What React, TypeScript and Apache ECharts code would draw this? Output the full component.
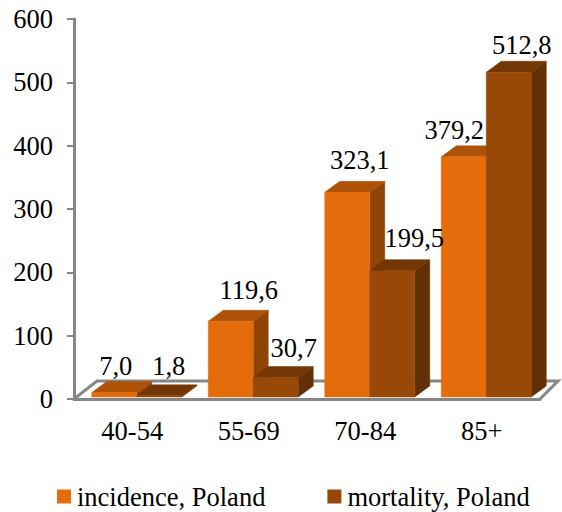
import React, { useEffect, useRef } from "react";
import * as echarts from "echarts";

const categories = ["40-54", "55-69", "70-84", "85+"];
const incidence = [7.0, 119.6, 323.1, 379.2];
const mortality = [1.8, 30.7, 199.5, 512.8];
const incidenceLabels = ["7,0", "119,6", "323,1", "379,2"];
const mortalityLabels = ["1,8", "30,7", "199,5", "512,8"];
const yTicks = { min: 0, max: 600, interval: 100 };

// Hand-placed label nudges relative to the top centre of each bar's front face.
const incidenceLabelNudge = [[1.5, -27], [18, -31], [12.5, -32], [-9.5, -27]];
const mortalityLabelNudge = [[9.5, -30], [18, -30], [22, -33], [13, -27]];

const FONT = '"Liberation Serif", "Times New Roman", serif';
const FONT_SIZE = 26.5;
const AXIS_GREY = "#868686";

const BAR_W = 45;
const DEPTH_X = 15;
const DEPTH_Y = 11;
const FLOOR_LIFT = 2;
const GROUP_SHIFT = 4.5;

const barSeries = (
  name: string,
  values: number[],
  labels: string[],
  nudges: number[][],
  slot: number,
  front: string,
  top: string,
  side: string,
) => ({
  type: "custom",
  name,
  data: values.map((v, i) => [i, v]),
  itemStyle: { color: front },
  clip: false,
  z: 3,
  renderItem: (_p: any, api: any) => {
    const cat = api.value(0);
    const val = api.value(1);
    const [cx, y1] = api.coord([cat, val]);
    const [, base] = api.coord([cat, 0]);
    const x0 = cx + GROUP_SHIFT + (slot - 1) * BAR_W;
    const x1 = x0 + BAR_W;
    const yTop = y1 - FLOOR_LIFT;
    const yBase = base - FLOOR_LIFT;
    const poly = (points: number[][], fill: string, z2 = 0) => ({
      type: "polygon",
      z2,
      shape: { points },
      style: { fill, stroke: fill, lineWidth: 0.5 },
    });
    return {
      type: "group",
      children: [
        poly([[x1, yBase], [x1 + DEPTH_X, yBase - DEPTH_Y], [x1 + DEPTH_X, yTop - DEPTH_Y], [x1, yTop]], side),
        poly([[x0, yTop], [x0 + DEPTH_X, yTop - DEPTH_Y], [x1 + DEPTH_X, yTop - DEPTH_Y], [x1, yTop]], top),
        poly([[x0, yBase], [x1, yBase], [x1, yTop], [x0, yTop]], front),
        {
          type: "text",
          z2: 5,
          style: {
            text: labels[cat],
            x: (x0 + x1) / 2 + nudges[cat][0],
            y: yTop + nudges[cat][1],
            align: "center",
            verticalAlign: "middle",
            fontFamily: FONT,
            fontSize: FONT_SIZE,
            fill: "#000",
          },
        },
      ],
    };
  },
});

// Receding floor edges of the pseudo-3D plot box.
const floorSeries = {
  type: "custom",
  data: [[0, 0]],
  silent: true,
  clip: false,
  z: 1,
  renderItem: (_p: any, api: any) => {
    const [cx, y0] = api.coord([0, 0]);
    const band = api.size([1, 0])[0];
    const left = cx - band / 2;
    const right = left + band * categories.length;
    return {
      type: "polyline",
      shape: {
        points: [
          [left, y0],
          [left + 23, y0 - 18],
          [right + 18, y0 - 18],
          [right, y0],
        ],
      },
      style: { stroke: AXIS_GREY, lineWidth: 3, fill: "none" },
    };
  },
};

export default function App() {
  const ref = useRef<HTMLDivElement>(null);
  useEffect(() => {
    const chart = echarts.init(ref.current!, undefined, { renderer: "svg" });
    chart.setOption({
      animation: false,
      backgroundColor: "#fff",
      textStyle: { fontFamily: FONT },
      grid: { left: 74, right: 22, top: 19, bottom: 113 },
      legend: {
        left: 52,
        top: 478,
        itemWidth: 14,
        itemHeight: 14,
        itemGap: 62,
        icon: "rect",
        textStyle: { fontFamily: FONT, fontSize: FONT_SIZE, color: "#000", padding: [0, 0, 0, 1] },
        data: ["incidence, Poland", "mortality, Poland"],
      },
      xAxis: {
        type: "category",
        data: categories,
        axisLine: { lineStyle: { color: AXIS_GREY, width: 3 } },
        axisTick: { length: 7, lineStyle: { color: AXIS_GREY, width: 2 } },
        axisLabel: { fontFamily: FONT, fontSize: FONT_SIZE, color: "#000", margin: 18 },
      },
      yAxis: {
        type: "value",
        min: yTicks.min,
        max: yTicks.max,
        interval: yTicks.interval,
        splitLine: { show: false },
        axisLine: { show: true, lineStyle: { color: AXIS_GREY, width: 3 } },
        axisTick: { show: true, length: 7, lineStyle: { color: AXIS_GREY, width: 2 } },
        axisLabel: { fontFamily: FONT, fontSize: FONT_SIZE, color: "#000", margin: 21 },
      },
      series: [
        floorSeries,
        barSeries("incidence, Poland", incidence, incidenceLabels, incidenceLabelNudge, 0, "#E46C0A", "#AD5207", "#8E4506"),
        barSeries("mortality, Poland", mortality, mortalityLabels, mortalityLabelNudge, 1, "#984807", "#733605", "#632F04"),
      ],
    });
    return () => chart.dispose();
  }, []);
  return <div ref={ref} style={{ position: "absolute", left: 0, top: 0, width: 562, height: 512 }} />;
}
